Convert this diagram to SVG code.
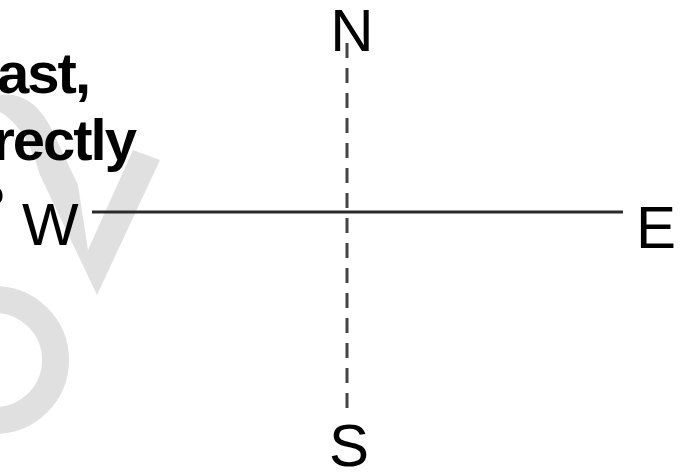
<svg xmlns="http://www.w3.org/2000/svg" width="687" height="473" viewBox="0 0 687 473">
<style>
.wm{fill:#e0e0e0;stroke:none}
.ring{fill:none;stroke:#e0e0e0;stroke-width:27}
.q{font-family:"Liberation Sans",Arial,sans-serif;font-weight:bold;font-size:58px;letter-spacing:-2px;fill:#000}
.lbl{font-family:"Liberation Sans",Arial,sans-serif;font-size:60px;fill:#000}
.ew{stroke:#2a2a2a;stroke-width:3;fill:none}
.ns{stroke:#444;stroke-width:3;fill:none;stroke-dasharray:15 10}
</style>
<rect width="687" height="473" fill="#fff"/>
<g id="watermark">
<path class="wm" d="M0,95 C22,92 40,105 52,130 L78,185 L88,250 L133,150 L160,160 L97,295 L40,175 C32,145 18,122 0,112 Z"/>
<circle class="ring" cx="-5" cy="360" r="60.5"/>
</g>
<g id="question">
<text class="q" x="89" y="93" text-anchor="end">ast,</text>
<text class="q" x="135" y="160" text-anchor="end">rectly</text>
<text class="q" x="4" y="225" text-anchor="end">?</text>
</g>
<g id="connectors">
<line class="ew" x1="92" y1="212" x2="623" y2="212"/>
<line class="ns" x1="347" y1="43" x2="347" y2="410"/>
</g>
<g id="N"><text class="lbl" x="352" y="51" text-anchor="middle">N</text></g>
<g id="S"><text class="lbl" x="349" y="466" text-anchor="middle">S</text></g>
<g id="W"><text class="lbl" x="22" y="245">W</text></g>
<g id="E"><text class="lbl" x="636" y="248">E</text></g>
</svg>
